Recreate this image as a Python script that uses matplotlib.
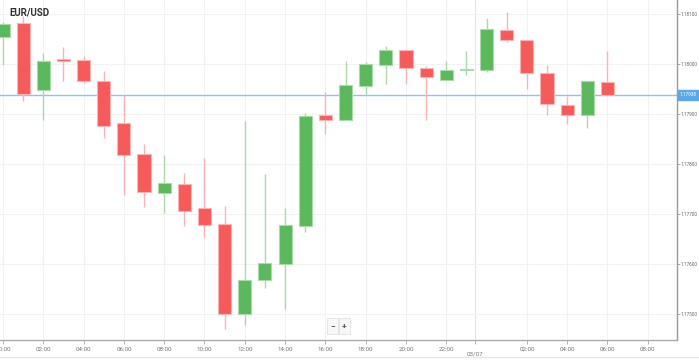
import numpy as np
import matplotlib.pyplot as plt
from matplotlib.patches import Rectangle

plt.rcParams['font.family'] = ['Roboto', 'DejaVu Sans']

# 시간봉 데이터 (시간 = 03/06 00:00 부터)
hours = list(range(31))
opens = [1.18054, 1.18082, 1.17948, 1.18011, 1.18008, 1.17966, 1.17882, 1.17819,
         1.17743, 1.17760, 1.17713, 1.17679, 1.17500, 1.17568, 1.17600, 1.17676,
         1.17898, 1.17888, 1.17957, 1.17999, 1.18028, 1.17993, 1.17969, 1.17988,
         1.17989, 1.18069, 1.18048, 1.17983, 1.17919, 1.17898, 1.17965]
highs = [1.18084, 1.18096, 1.18022, 1.18034, 1.18016, 1.17986, 1.17938, 1.17840,
         1.17819, 1.17783, 1.17813, 1.17717, 1.17887, 1.17780, 1.17713, 1.17903,
         1.17945, 1.18006, 1.18005, 1.18036, 1.18030, 1.17996, 1.18006, 1.18026,
         1.18093, 1.18105, 1.18048, 1.17999, 1.17937, 1.17965, 1.18027]
lows = [1.17998, 1.17926, 1.17888, 1.17966, 1.17962, 1.17852, 1.17738, 1.17714,
        1.17703, 1.17676, 1.17653, 1.17471, 1.17477, 1.17553, 1.17510, 1.17663,
        1.17860, 1.17888, 1.17938, 1.17960, 1.17961, 1.17888, 1.17968, 1.17978,
        1.17985, 1.18045, 1.17951, 1.17898, 1.17880, 1.17873, 1.17938]
closes = [1.18080, 1.17940, 1.18006, 1.18007, 1.17966, 1.17876, 1.17818, 1.17744,
          1.17761, 1.17706, 1.17679, 1.17500, 1.17568, 1.17601, 1.17678, 1.17897,
          1.17888, 1.17959, 1.17999, 1.18028, 1.17993, 1.17975, 1.17988, 1.17991,
          1.18071, 1.18049, 1.17983, 1.17920, 1.17898, 1.17965, 1.17938]
last_price = 1.17938

tick_hours = [0, 2, 4, 6, 8, 10, 12, 14, 16, 18, 20, 22, 26, 28, 30, 32]
tick_labels = ['00:00', '02:00', '04:00', '06:00', '08:00', '10:00', '12:00', '14:00',
               '16:00', '18:00', '20:00', '22:00', '02:00', '04:00', '06:00', '08:00']
day_hour = 23.42
day_label = '03/07'
y_ticks = [1.175, 1.176, 1.177, 1.178, 1.179, 1.180, 1.181]

green = '#5cb85c'
red = '#f55b5b'

fig = plt.figure(figsize=(6.99, 3.6), dpi=100)
ax = fig.add_axes([0, 20 / 360, 677 / 699, 340 / 360])

# 캔들
for h, o, hi, lo, c in zip(hours, opens, highs, lows, closes):
    up = c >= o
    col = green if up else red
    wick = '#a9dba9' if up else '#f9b4b4'
    ax.vlines(h, lo, hi, color=wick, lw=1, zorder=2)
    bot = min(o, c)
    hgt = max(abs(c - o), 0.00002)
    ax.bar(h, hgt, bottom=bot, width=0.65, color=col,
           edgecolor=wick, linewidth=0.8, zorder=3)

# 현재가 라인
ax.axhline(last_price, color='#8fc3ee', lw=1, zorder=1)

ax.set_xlim(-0.149, 33.45)
ax.set_ylim(1.17448, 1.18128)

# 그리드
for t in tick_hours:
    ax.axvline(t, color='#f2f2f2', lw=0.8, zorder=0)
ax.axvline(day_hour, color='#e4e4e4', lw=0.8, zorder=0)
for yv in y_ticks:
    ax.axhline(yv, color='#f2f2f2', lw=0.8, zorder=0)

# 축 스타일
for s in ['top', 'left']:
    ax.spines[s].set_visible(False)
ax.spines['right'].set_color('#999999')
ax.spines['bottom'].set_color('#aaaaaa')
ax.spines['right'].set_linewidth(1)
ax.spines['bottom'].set_linewidth(1)

ax.yaxis.tick_right()
ax.set_yticks(y_ticks)
ax.set_yticklabels([f'{v:.5f}' for v in y_ticks])
ax.tick_params(axis='y', length=2, width=0.6, color='#999999', labelsize=3.4,
               labelcolor='#666666', pad=0.6)

ax.set_xticks(tick_hours + [day_hour])
ax.set_xticklabels(tick_labels + [''])
ax.tick_params(axis='x', length=3, width=0.6, color='#aaaaaa', labelsize=4.5,
               labelcolor='#777777', pad=2)
ax.text(day_hour, 1.17448 - 0.00029, day_label, ha='center', va='center',
        fontsize=4.5, color='#777777', clip_on=False)

# 제목
ax.text(9 / 677, 1 - 12 / 340, 'EUR/USD', transform=ax.transAxes, fontsize=7,
        fontweight='bold', color='#333333', ha='left', va='center')

# 현재가 라벨
fig.patches.append(Rectangle((678 / 699, 1 - 100 / 360), 21 / 699, 10 / 360,
                             transform=fig.transFigure, color='#5aa9e6'))
fig.text(688.5 / 699, 1 - 95 / 360, f'{last_price:.5f}', ha='center', va='center',
         fontsize=3.4, color='white')

# 줌 버튼
for x0, sym in [(327, '−'), (339, '+')]:
    fig.patches.append(Rectangle((x0 / 699, 1 - 334 / 360), 11 / 699, 16 / 360,
                                 transform=fig.transFigure, facecolor='#f7f7f7',
                                 edgecolor='#e2e2e2', lw=0.6))
    fig.text((x0 + 5.5) / 699, 1 - 326 / 360, sym, ha='center', va='center',
             fontsize=6, color='#555555', fontweight='bold')

# 아래 경계선
fig.add_artist(plt.Line2D([0, 1], [1 - 357 / 360] * 2, transform=fig.transFigure,
                          color='#e6e6e6', lw=1))

fig.savefig('out.png', dpi=100)
